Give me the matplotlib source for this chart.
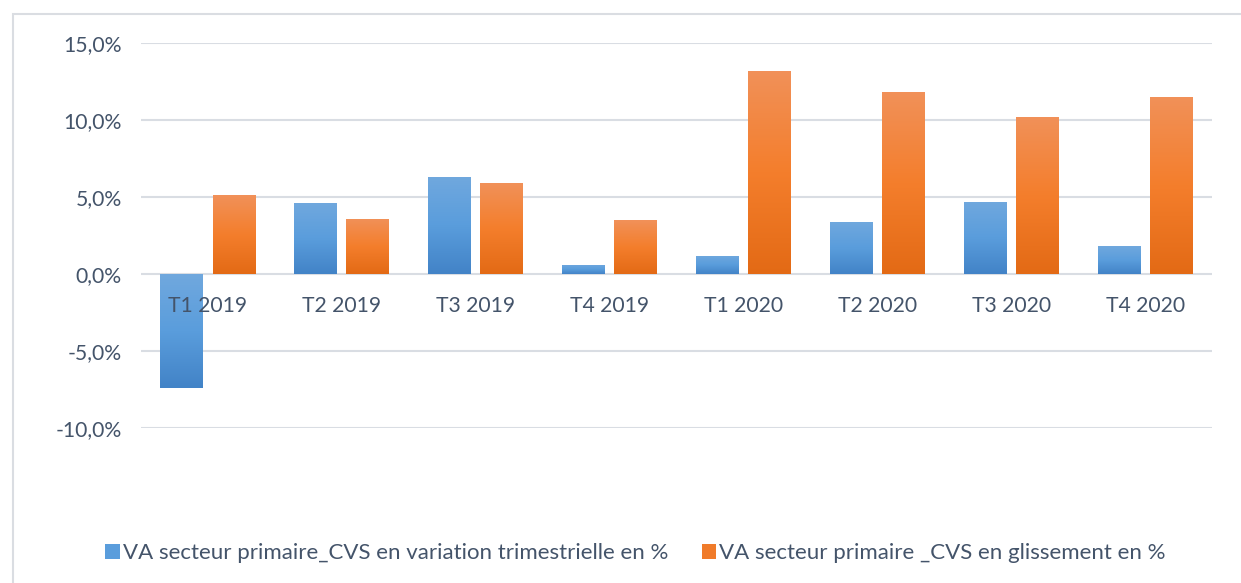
import matplotlib
matplotlib.use("Agg")
import matplotlib.pyplot as plt
import numpy as np
from matplotlib.patches import Rectangle, Patch
from matplotlib.ticker import FuncFormatter, MultipleLocator
from matplotlib.colors import LinearSegmentedColormap
from matplotlib.transforms import offset_copy

categories = ["T1 2019", "T2 2019", "T3 2019", "T4 2019", "T1 2020", "T2 2020", "T3 2020", "T4 2020"]
variation_trim = [-7.4, 4.6, 6.3, 0.6, 1.2, 3.4, 4.7, 1.8]
glissement = [5.1, 3.6, 5.9, 3.5, 13.2, 11.8, 10.2, 11.5]
series_names = ["VA secteur primaire_CVS en variation trimestrielle en %",
                "VA secteur primaire _CVS en glissement en %"]

plt.rcParams['font.family'] = ['Lato', 'DejaVu Sans']
W, H = 1241, 583
fig = plt.figure(figsize=(W / 100, H / 100), dpi=100)
text_col = "#44546A"
grid_col = "#D9DDE3"

# outer chart border
fig.patches.append(Rectangle((13 / W, -0.1), 1.2, 1 - 14 / H + 0.1, transform=fig.transFigure,
                             fill=False, edgecolor="#DADDE2", linewidth=1.5))

ax = fig.add_axes([141 / W, 1 - 428 / H, (1212 - 141) / W, (428 - 43) / H])
x = np.arange(len(categories))
bw = 0.32
gap = 0.07
b1 = ax.bar(x - (bw + gap) / 2, variation_trim, bw, color="none", zorder=3)
b2 = ax.bar(x + (bw + gap) / 2, glissement, bw, color="none", zorder=3)

cm_blue = LinearSegmentedColormap.from_list("b", ["#4283C7", "#5A9DDC", "#70A8DE"])
cm_orange = LinearSegmentedColormap.from_list("o", ["#E36A15", "#F47E2C", "#F19159"])
grad = np.linspace(0, 1, 256).reshape(-1, 1)
for bars, cmap in ((b1, cm_blue), (b2, cm_orange)):
    for r in bars:
        x0, y0 = r.get_x(), r.get_y()
        w, h = r.get_width(), r.get_height()
        ylo, yhi = min(y0, y0 + h), max(y0, y0 + h)
        im = ax.imshow(grad, cmap=cmap, extent=[x0, x0 + w, ylo, yhi], origin="lower",
                       aspect="auto", zorder=3, interpolation="bilinear")
        im.set_clip_path(r)
ax.set_xlim(-0.5, len(categories) - 0.5)
ax.set_ylim(-10, 15)

ax.yaxis.set_major_locator(MultipleLocator(5))
ax.yaxis.set_major_formatter(FuncFormatter(lambda v, p: f"{v:.1f}%".replace(".", ",")))
ax.grid(axis="y", color=grid_col, linewidth=1.5, zorder=0)
ax.set_axisbelow(True)
for s in ["top", "right", "left", "bottom"]:
    ax.spines[s].set_visible(False)
ax.set_xticks([])
ax.tick_params(axis="y", length=0, pad=14, labelsize=15.2, labelcolor=text_col)

tr = offset_copy(ax.transData, fig=fig, x=0, y=-32, units="dots")
for xi, lab in zip(x, categories):
    ax.text(xi, 0, lab, transform=tr, ha="center", va="center", fontsize=15.2,
            color=text_col, zorder=6)

handles = [Patch(facecolor="#5A9DDC", edgecolor="none"), Patch(facecolor="#F07B2A", edgecolor="none")]
fig.legend(handles, series_names, loc="center", bbox_to_anchor=(635.5 / W, 1 - 553 / H), ncol=2,
           frameon=False, fontsize=16, labelcolor=text_col, handlelength=0.65, handleheight=0.65,
           handletextpad=0.15, columnspacing=1.5)

fig.savefig("out.png", dpi=100)
